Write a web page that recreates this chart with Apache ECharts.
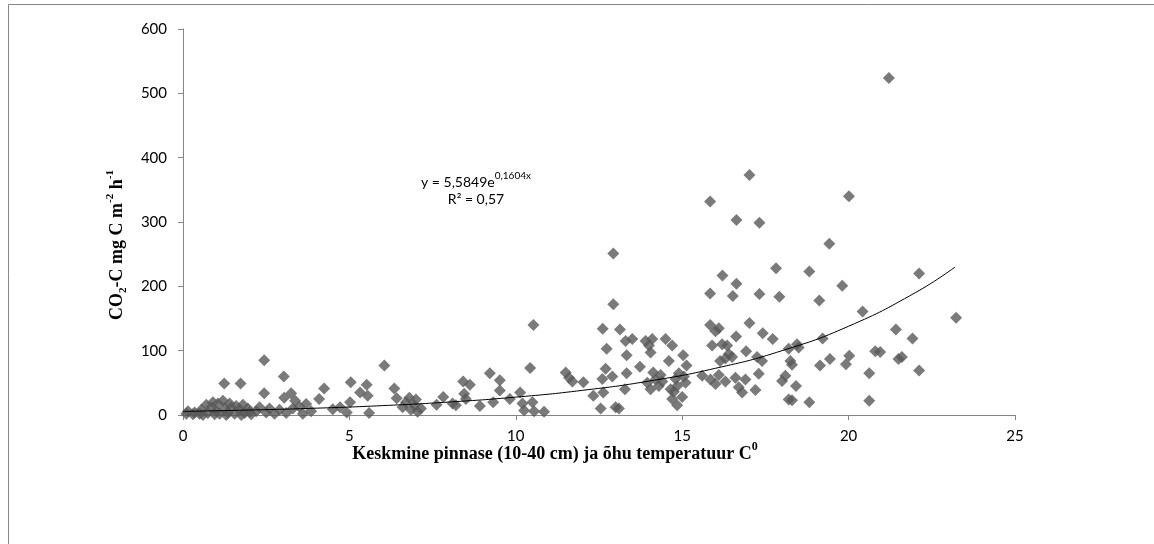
<!DOCTYPE html>
<html>
<head>
<meta charset="UTF-8"/>
<script src="https://cdn.jsdelivr.net/npm/echarts@6/dist/echarts.min.js"></script>
<style>
  html, body { margin: 0; padding: 0; background: #fff; }
  #main { width: 1154px; height: 544px; }
</style>
</head>
<body>
<div id="main"></div>
<script type="text/javascript">
// temperatuur (C) ja CO2-C voog (mg C m-2 h-1), loetud jooniselt
var pts0to5 = [
    [0.1, 2], [0.15, 6], [0.3, 1], [0.35, 4], [0.5, 2], [0.55, 8], [0.7, 16], [0.75, 3],
    [0.85, 12], [0.9, 20], [1.0, 6], [1.05, 18], [1.1, 2], [1.2, 22], [1.25, 10], [1.35, 4],
    [1.4, 18], [1.45, 12], [1.55, 2], [1.6, 14], [1.7, 8], [1.8, 16], [1.85, 3], [1.95, 10],
    [2.0, 5], [2.05, 1], [0.6, 0], [1.3, 0], [0.95, 1], [1.75, 0], [1.24, 49], [1.73, 49],
    [2.2, 6], [2.3, 12], [2.44, 85], [2.44, 34], [2.5, 4], [2.6, 10], [2.75, 2], [2.9, 8],
    [3.03, 60], [3.04, 27], [3.1, 3], [3.25, 34], [3.3, 10], [3.37, 22], [3.5, 13], [3.6, 2],
    [3.7, 17], [3.85, 6], [4.09, 25], [4.24, 41], [4.5, 9], [4.72, 12], [4.92, 4], [5.02, 20],
    [5.04, 51]
];
var pts5to11 = [
    [5.32, 35], [5.52, 47], [5.55, 30], [5.59, 3], [6.05, 77], [6.35, 41], [6.42, 26], [6.6, 12],
    [6.7, 20], [6.8, 27], [6.85, 8], [6.95, 15], [7.0, 24], [7.05, 5], [7.15, 10], [7.62, 16],
    [7.82, 28], [8.1, 18], [8.2, 15], [8.42, 52], [8.45, 33], [8.5, 25], [8.62, 47], [8.92, 14],
    [9.22, 65], [9.32, 20], [9.52, 54], [9.52, 38], [9.82, 25], [10.13, 35], [10.2, 18], [10.25, 7],
    [10.43, 73], [10.5, 20], [10.53, 140], [10.55, 6], [10.85, 5]
];
var pts11to15 = [
    [11.5, 66], [11.6, 58], [11.7, 52], [12.03, 51], [12.33, 30], [12.55, 10], [12.6, 56], [12.63, 35],
    [12.61, 134], [12.7, 72], [12.73, 103], [12.9, 60], [12.93, 172], [12.93, 251], [13.0, 12], [13.1, 10],
    [13.13, 133], [13.28, 40], [13.33, 93], [13.33, 65], [13.3, 115], [13.5, 118], [13.73, 75],
    [13.9, 115], [14.0, 108], [14.05, 97], [14.1, 118], [14.13, 66], [13.95, 50], [14.05, 40], [14.2, 55],
    [14.3, 45], [14.4, 52], [14.5, 118], [14.6, 84], [14.7, 108], [14.65, 40], [14.75, 36], [14.8, 56],
    [14.85, 45], [14.7, 25], [14.85, 15], [15.0, 28], [15.03, 93], [15.1, 50], [15.13, 77], [15.05, 60],
    [14.9, 65], [14.35, 62]
];
var pts15to19 = [
    [15.6, 61], [15.84, 332], [15.84, 189], [15.84, 140], [15.9, 108], [16.0, 130], [16.1, 135], [16.2, 110],
    [16.35, 108], [15.85, 55], [16.0, 48], [16.1, 62], [16.21, 217], [16.3, 52], [16.3, 88], [16.4, 95],
    [16.5, 90], [16.52, 185], [16.63, 303], [16.63, 204], [16.62, 122], [16.6, 58], [16.7, 43], [16.8, 35],
    [16.92, 99], [16.9, 55], [17.02, 373], [17.02, 143], [16.14, 84],
    [17.2, 39], [17.25, 90], [17.3, 64], [17.32, 299], [17.32, 188], [17.42, 127], [17.4, 84], [17.72, 118],
    [17.82, 228], [17.92, 184], [18.0, 53], [18.1, 61], [18.2, 24], [18.2, 103], [18.25, 84], [18.3, 78],
    [18.3, 23], [18.42, 45], [18.45, 110], [18.5, 105], [18.82, 223], [18.82, 20]
];
var pts19to24 = [
    [19.12, 178], [19.14, 77], [19.22, 119], [19.42, 266], [19.44, 87], [19.81, 201], [19.92, 79], [20.01, 340],
    [20.02, 92], [20.42, 161], [20.62, 65], [20.62, 22], [20.8, 99], [20.95, 98], [21.21, 524], [21.42, 133],
    [21.5, 87], [21.6, 90], [21.92, 119], [22.12, 220], [22.12, 69], [23.23, 151]
];

// eksponentsiaalne trendijoon, loetud jooniselt
var trendX = [0, 2, 4, 6, 8, 10, 12, 14, 16, 18, 20, 22, 23.2];
var trendY = [5.6, 7.7, 10.6, 14.6, 20.2, 27.8, 38.3, 52.7, 72.6, 100, 138, 190, 230];

var xTicks = [0, 5, 10, 15, 20, 25];
var yTicks = [0, 100, 200, 300, 400, 500, 600];

var allPts = pts0to5.concat(pts5to11, pts11to15, pts15to19, pts19to24);
var trendData = [];
for (var i = 0; i < trendX.length; i++) {
    trendData.push([trendX[i], trendY[i]]);
}

var axisColor = '#868686';
var labelFont = 'Lato, "Open Sans", sans-serif';
var titleFont = '"Liberation Serif", "DejaVu Serif", serif';

var myChart = echarts.init(document.getElementById('main'));
var option = {
    backgroundColor: '#fff',
    animation: false,
    grid: {
        left: 183,
        right: 139,
        top: 29,
        bottom: 129
    },
    xAxis: {
        type: 'value',
        min: xTicks[0],
        max: xTicks[xTicks.length - 1],
        interval: 5,
        splitLine: {show: false},
        axisLine: {onZero: false, lineStyle: {color: axisColor, width: 1}},
        axisTick: {show: true, length: 5, lineStyle: {color: axisColor}},
        axisLabel: {color: '#000', fontFamily: labelFont, fontSize: 15, margin: 14}
    },
    yAxis: {
        type: 'value',
        min: yTicks[0],
        max: yTicks[yTicks.length - 1],
        interval: 100,
        splitLine: {show: false},
        axisLine: {show: true, lineStyle: {color: axisColor, width: 1}},
        axisTick: {show: true, length: 5, lineStyle: {color: axisColor}},
        axisLabel: {color: '#000', fontFamily: labelFont, fontSize: 15, margin: 16}
    },
    graphic: [
        {
            type: 'rect',
            shape: {x: 8.5, y: 4.5, width: 1300, height: 700},
            style: {fill: 'none', stroke: axisColor, lineWidth: 1},
            silent: true,
            z: -10
        },
        {
            type: 'text',
            x: 555,
            y: 452,
            style: {
                text: '{t|Keskmine pinnase (10-40 cm) ja õhu temperatuur C}{s|0}',
                align: 'center',
                verticalAlign: 'middle',
                rich: {
                    t: {fontFamily: titleFont, fontWeight: 'bold', fontSize: 18, fill: '#000', lineHeight: 23, verticalAlign: 'bottom'},
                    s: {fontFamily: titleFont, fontWeight: 'bold', fontSize: 12, fill: '#000', lineHeight: 12, verticalAlign: 'top'}
                }
            }
        },
        {
            type: 'text',
            x: 117,
            y: 245,
            rotation: Math.PI / 2,
            style: {
                text: '{t|CO}{b|2}{t|-C mg C m}{s|-2}{t| h}{s|-1}',
                align: 'center',
                verticalAlign: 'middle',
                rich: {
                    t: {fontFamily: titleFont, fontWeight: 'bold', fontSize: 18, fill: '#000', lineHeight: 24, verticalAlign: 'middle'},
                    b: {fontFamily: titleFont, fontWeight: 'bold', fontSize: 11, fill: '#000', lineHeight: 12, verticalAlign: 'bottom'},
                    s: {fontFamily: titleFont, fontWeight: 'bold', fontSize: 11, fill: '#000', lineHeight: 12, verticalAlign: 'top'}
                }
            }
        },
        {
            type: 'text',
            x: 476,
            y: 180,
            style: {
                text: '{t|y = 5,5849e}{s|0,1604x}',
                align: 'center',
                verticalAlign: 'middle',
                rich: {
                    t: {fontFamily: labelFont, fontSize: 14, fill: '#000', lineHeight: 18, verticalAlign: 'bottom'},
                    s: {fontFamily: labelFont, fontSize: 10, fill: '#000', lineHeight: 11, verticalAlign: 'top'}
                }
            }
        },
        {
            type: 'text',
            x: 476,
            y: 199,
            style: {
                text: 'R² = 0,57',
                align: 'center',
                verticalAlign: 'middle',
                fontFamily: labelFont,
                fontSize: 14,
                fill: '#000'
            }
        }
    ],
    series: [
        {
            name: 'CO2-C',
            type: 'scatter',
            symbol: 'diamond',
            symbolSize: 12,
            itemStyle: {color: '#595959'},
            data: allPts,
            z: 2
        },
        {
            name: 'trend',
            type: 'line',
            data: trendData,
            smooth: true,
            showSymbol: false,
            symbol: 'none',
            lineStyle: {color: '#000', width: 1},
            z: 3
        }
    ]
};
myChart.setOption(option);
</script>
</body>
</html>
